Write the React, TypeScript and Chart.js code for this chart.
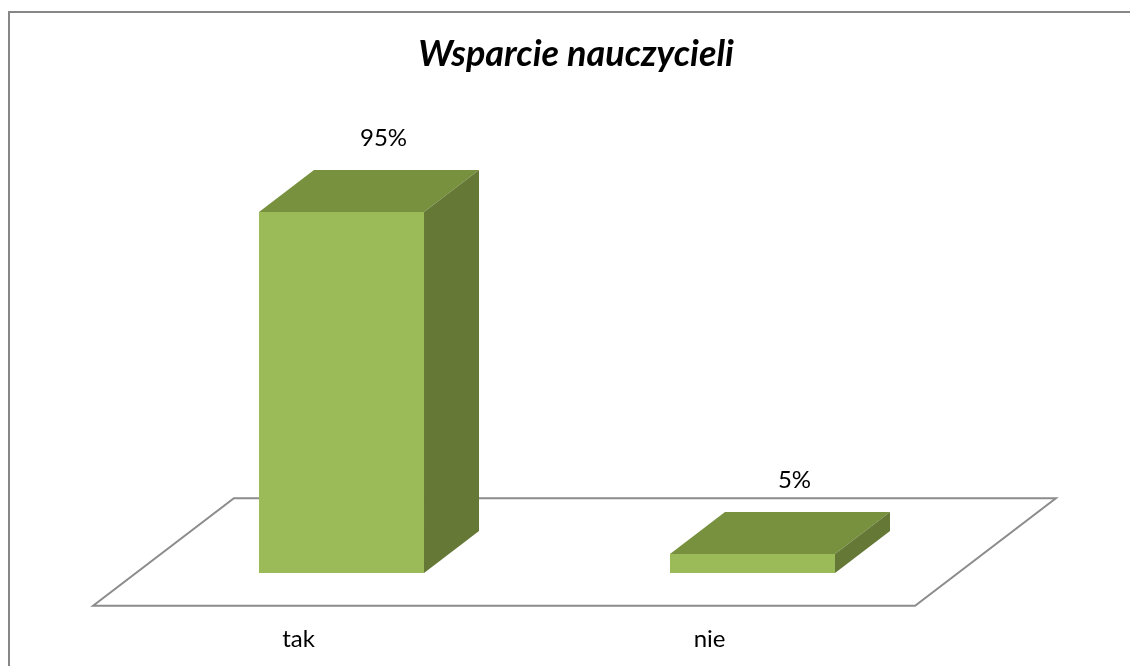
import React, { useEffect, useRef } from "react";
import { Chart, registerables } from "chart.js";

Chart.register(...registerables);

const title = "Wsparcie nauczycieli";
const categories = ["tak", "nie"];
const values = [95, 5];
const valueSuffix = "%";

const FONT = "Lato, 'Open Sans', 'DejaVu Sans', sans-serif";
const FRONT_COLOR = "#9BBB59";
const TOP_COLOR = "#77913F";
const SIDE_COLOR = "#657836";
const FLOOR_COLOR = "#8C8C8C";
const BORDER_COLOR = "#878787";

// 3D projection vector for one bar depth
const DX = 55;
const DY = -42;
const FLOOR_FRONT = -0.78;
const FLOOR_BACK = 1.78;

const threeD = {
  id: "threeD",
  beforeDraw(chart: any) {
    const ctx = chart.ctx;
    ctx.save();
    ctx.strokeStyle = BORDER_COLOR;
    ctx.lineWidth = 2;
    ctx.strokeRect(9, 12, 1400, 900);
    ctx.fillStyle = "#000";
    ctx.font = `italic bold 36px ${FONT}`;
    ctx.textAlign = "center";
    ctx.textBaseline = "alphabetic";
    ctx.fillText(title, 576, 66);
    ctx.restore();
  },
  beforeDatasetsDraw(chart: any) {
    const { ctx, chartArea } = chart;
    const { left, right, bottom } = chartArea;
    const fx = FLOOR_FRONT * DX, fy = FLOOR_FRONT * DY;
    const bx = FLOOR_BACK * DX, by = FLOOR_BACK * DY;
    ctx.save();
    ctx.strokeStyle = FLOOR_COLOR;
    ctx.lineWidth = 2;
    ctx.beginPath();
    ctx.moveTo(left + fx, bottom + fy);
    ctx.lineTo(right + fx, bottom + fy);
    ctx.lineTo(right + bx, bottom + by);
    ctx.lineTo(left + bx, bottom + by);
    ctx.closePath();
    ctx.fillStyle = "#FFFFFF";
    ctx.fill();
    ctx.stroke();
    ctx.restore();
  },
  afterDatasetsDraw(chart: any) {
    const { ctx, chartArea } = chart;
    const meta = chart.getDatasetMeta(0);
    const xScale = chart.scales.x;
    ctx.save();
    meta.data.forEach((bar: any, i: number) => {
      const w = bar.width;
      const l = bar.x - w / 2;
      const r = bar.x + w / 2;
      const t = bar.y;
      const b = bar.base;
      // top face
      ctx.fillStyle = TOP_COLOR;
      ctx.beginPath();
      ctx.moveTo(l, t);
      ctx.lineTo(r, t);
      ctx.lineTo(r + DX, t + DY);
      ctx.lineTo(l + DX, t + DY);
      ctx.closePath();
      ctx.fill();
      // side face
      ctx.fillStyle = SIDE_COLOR;
      ctx.beginPath();
      ctx.moveTo(r, t);
      ctx.lineTo(r + DX, t + DY);
      ctx.lineTo(r + DX, b + DY);
      ctx.lineTo(r, b);
      ctx.closePath();
      ctx.fill();
      // value label
      ctx.fillStyle = "#000";
      ctx.font = `24px ${FONT}`;
      ctx.textAlign = "center";
      ctx.textBaseline = "alphabetic";
      ctx.fillText(`${values[i]}${valueSuffix}`, bar.x + 42, t + DY - 24);
      // category label at floor front
      const cx = xScale.getPixelForValue(i) + FLOOR_FRONT * DX;
      ctx.fillText(categories[i], cx, chartArea.bottom + 74);
    });
    ctx.restore();
  },
};

export default function App() {
  const ref = useRef<HTMLCanvasElement>(null);
  useEffect(() => {
    const chart = new Chart(ref.current!, {
      type: "bar",
      data: {
        labels: categories,
        datasets: [
          {
            data: values,
            backgroundColor: FRONT_COLOR,
            borderWidth: 0,
            categoryPercentage: 1,
            barPercentage: 0.4015,
          },
        ],
      },
      options: {
        responsive: false,
        animation: false,
        devicePixelRatio: 1,
        layout: { padding: { left: 136, right: 172, top: 193, bottom: 93 } },
        scales: {
          x: { display: false },
          y: { display: false, min: 0, max: 100 },
        },
        plugins: {
          legend: { display: false },
          tooltip: { enabled: false },
          title: { display: false },
        },
      },
      plugins: [threeD],
    });
    return () => chart.destroy();
  }, []);
  return (
    <div style={{ position: "absolute", left: 0, top: 0, width: 1130, height: 666, background: "#fff" }}>
      <canvas ref={ref} width={1130} height={666} style={{ display: "block" }} />
    </div>
  );
}
